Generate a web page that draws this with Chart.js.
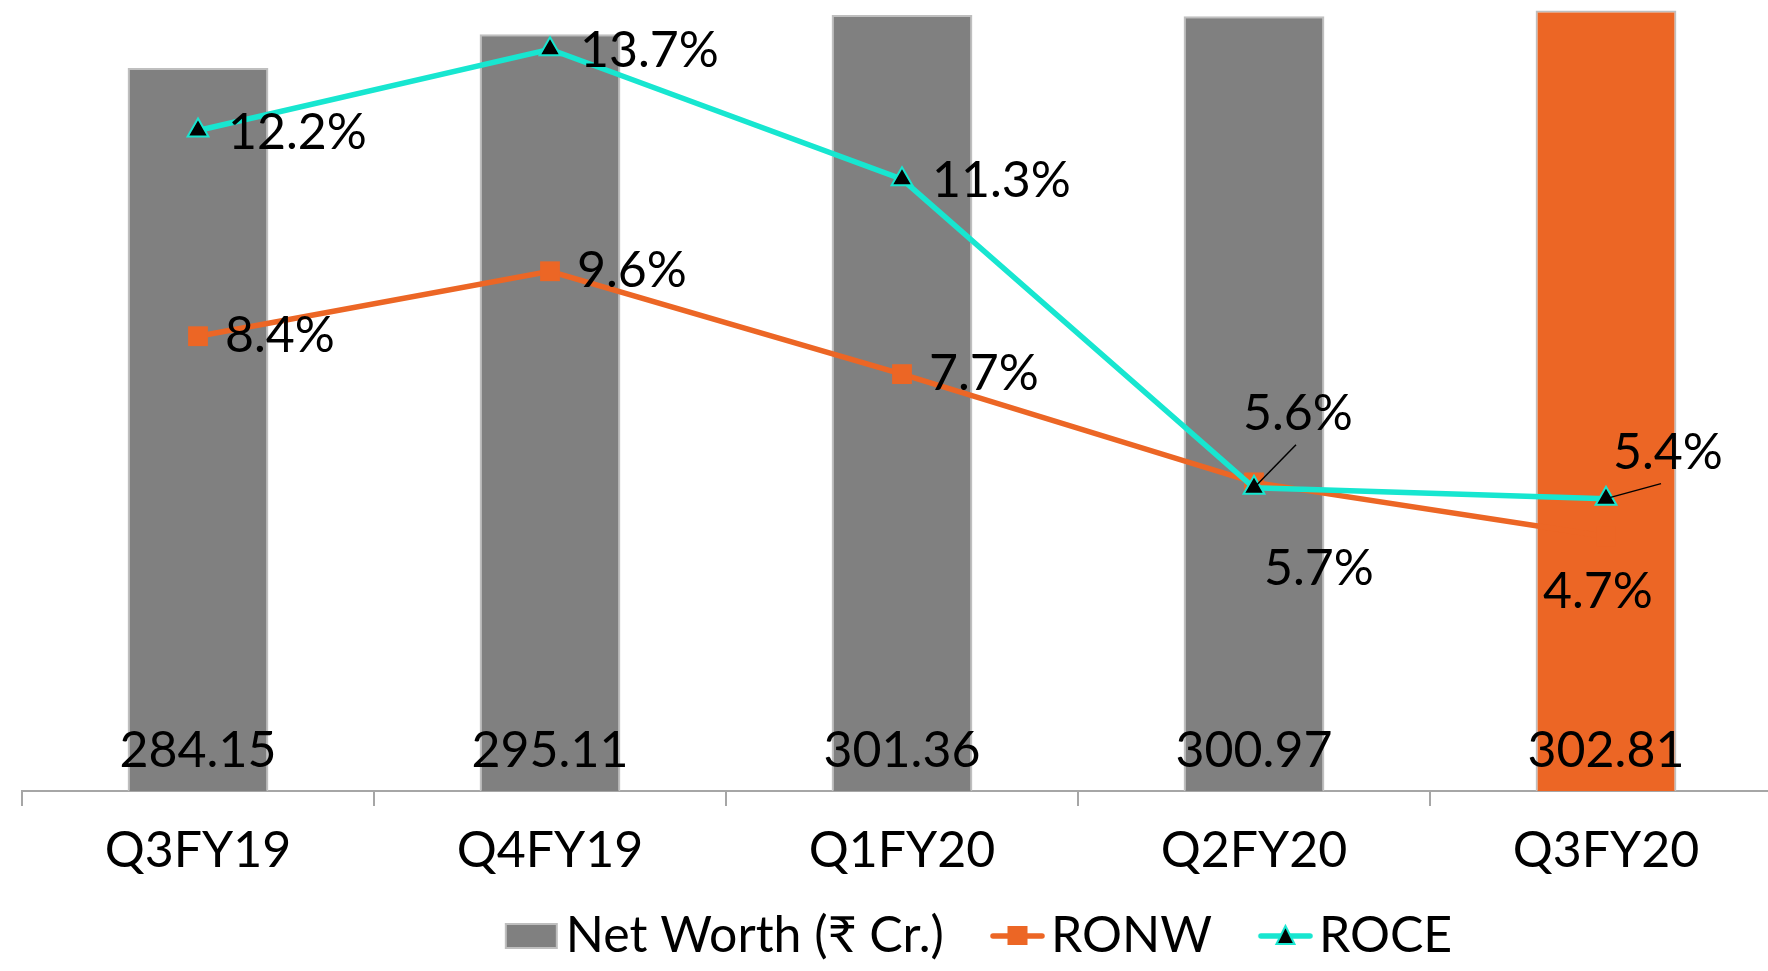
<!DOCTYPE html>
<html>
<head>
<meta charset="utf-8">
<script src="https://cdn.jsdelivr.net/npm/chart.js@4.4.1/dist/chart.umd.min.js"></script>
<style>
    html, body { margin: 0; padding: 0; background: #fff; overflow: hidden; }
    #wrap { position: relative; width: 1800px; height: 971px; }
</style>
</head>
<body>
<div id="wrap"><canvas id="netWorthChart" width="1800" height="971"></canvas></div>
<script>
// data
const quarters = ['Q3FY19', 'Q4FY19', 'Q1FY20', 'Q2FY20', 'Q3FY20'];
const netWorth = [284.15, 295.11, 301.36, 300.97, 302.81];
const ronw = [8.4, 9.6, 7.7, 5.7, 4.7];
const roce = [12.2, 13.7, 11.3, 5.6, 5.4];

const GREY = '#808080';
const ORANGE = '#EC6625';
const TEAL = '#17E6D0';
const FONT = "Lato, 'DejaVu Sans', sans-serif";
const LEGEND_SHIFT = 67;

// label placement: [dx, dy, align, leader end]
const ronwLabelPos = [[27, 0, 'left'], [27, 0, 'left'], [27, 0, 'left'], [65, 86, 'center'], [-8, 55, 'center']];
const roceLabelPos = [[30, 2, 'left'], [30, 2, 'left'], [30, 2, 'left'], [44, -74, 'center', [42, -43]], [62, -46, 'center', [55, -15]]];

function symbolCanvas(kind) {
    const d = 19, w = 55;
    const c = document.createElement('canvas');
    c.width = w + 2 * d;
    c.height = 30;
    const g = c.getContext('2d');
    const x0 = 2 * d, cy = 15;
    if (kind === 'bar') {
        g.fillStyle = '#bfbfbf';
        g.fillRect(x0, cy - 13, 53, 26);
        g.fillStyle = GREY;
        g.fillRect(x0 + 2, cy - 11, 49, 22);
    } else {
        g.strokeStyle = kind === 'ronw' ? ORANGE : TEAL;
        g.lineWidth = 5.5;
        g.lineCap = 'round';
        g.beginPath();
        g.moveTo(x0 + 3, cy);
        g.lineTo(x0 + w - 3, cy);
        g.stroke();
        const mx = x0 + w / 2;
        if (kind === 'ronw') {
            g.fillStyle = ORANGE;
            g.fillRect(mx - 10, cy - 10, 20, 19);
        } else {
            g.beginPath();
            g.moveTo(mx, cy - 10);
            g.lineTo(mx + 9, cy + 8);
            g.lineTo(mx - 9, cy + 8);
            g.closePath();
            g.fillStyle = '#000';
            g.fill();
            g.strokeStyle = TEAL;
            g.lineWidth = 2;
            g.stroke();
        }
    }
    return c;
}
const legendSymbols = [symbolCanvas('bar'), symbolCanvas('ronw'), symbolCanvas('roce')];

const valueLabels = {
    id: 'valueLabels',
    afterDatasetsDraw(chart) {
        const ctx = chart.ctx;
        const bottom = chart.chartArea.bottom;
        ctx.save();
        ctx.font = '50px ' + FONT;
        ctx.fillStyle = '#000';
        ctx.textBaseline = 'middle';

        chart.getDatasetMeta(0).data.forEach((bar, i) => {
            ctx.textAlign = 'center';
            ctx.fillText(netWorth[i].toFixed(2), bar.x, bottom - 40);
        });

        [[1, ronw, ronwLabelPos], [2, roce, roceLabelPos]].forEach(([idx, values, pos]) => {
            chart.getDatasetMeta(idx).data.forEach((pt, i) => {
                const [dx, dy, align, leader] = pos[i];
                if (leader) {
                    ctx.strokeStyle = '#000';
                    ctx.lineWidth = 1.5;
                    ctx.beginPath();
                    ctx.moveTo(pt.x, pt.y);
                    ctx.lineTo(pt.x + leader[0], pt.y + leader[1]);
                    ctx.stroke();
                }
                ctx.textAlign = align;
                ctx.fillText(values[i].toFixed(1) + '%', pt.x + dx, pt.y + dy);
            });
        });
        ctx.restore();
    }
};

const legendShift = {
    id: 'legendShift',
    afterLayout(chart) {
        chart.legend.left += LEGEND_SHIFT;
        chart.legend.right += LEGEND_SHIFT;
    }
};

const ctx = document.getElementById('netWorthChart').getContext('2d');
new Chart(ctx, {
    data: {
        labels: quarters,
        datasets: [{
            type: 'bar',
            label: 'Net Worth (₹ Cr.)',
            data: netWorth,
            backgroundColor: netWorth.map((v, i) => i === netWorth.length - 1 ? ORANGE : GREY),
            borderColor: '#bfbfbf',
            borderWidth: 2,
            categoryPercentage: 0.8,
            barPercentage: 0.5,
            yAxisID: 'y',
            order: 3
        }, {
            type: 'line',
            label: 'RONW',
            data: ronw,
            borderColor: ORANGE,
            borderWidth: 5.5,
            pointStyle: 'rect',
            pointRadius: 14,
            pointBackgroundColor: ORANGE,
            pointBorderColor: ORANGE,
            pointBorderWidth: 0,
            tension: 0,
            yAxisID: 'y1',
            order: 2
        }, {
            type: 'line',
            label: 'ROCE',
            data: roce,
            borderColor: TEAL,
            borderWidth: 5.5,
            pointStyle: 'triangle',
            pointRadius: 12,
            pointBackgroundColor: '#000',
            pointBorderColor: TEAL,
            pointBorderWidth: 2,
            tension: 0,
            yAxisID: 'y1',
            order: 1
        }]
    },
    options: {
        responsive: false,
        animation: false,
        layout: { autoPadding: false, padding: { left: 22, right: 18, top: 0, bottom: 0 } },
        scales: {
            x: {
                offset: true,
                grid: {
                    offset: true,
                    drawOnChartArea: false,
                    drawTicks: true,
                    tickLength: 15,
                    color: '#a6a6a6',
                    lineWidth: 2
                },
                border: { color: '#a6a6a6', width: 2 },
                ticks: {
                    color: '#000',
                    font: { family: FONT, size: 50 },
                    padding: 15,
                    maxRotation: 0,
                    autoSkip: false
                },
                afterFit: (scale) => { scale.height = 93; }
            },
            y: { display: false, min: 50, max: 306.2 },
            y1: { display: false, min: 0, max: 14.61 }
        },
        plugins: {
            tooltip: { enabled: false },
            legend: {
                position: 'bottom',
                labels: {
                    color: '#000',
                    font: { family: FONT, size: 50 },
                    usePointStyle: true,
                    pointStyleWidth: 55,
                    boxHeight: 50,
                    padding: 27,
                    sort: (a, b) => a.datasetIndex - b.datasetIndex,
                    generateLabels: (chart) => {
                        const items = Chart.defaults.plugins.legend.labels.generateLabels(chart);
                        items.forEach((item) => {
                            item.pointStyle = legendSymbols[item.datasetIndex];
                            item.fontColor = '#000';
                        });
                        return items;
                    }
                }
            }
        }
    },
    plugins: [valueLabels, legendShift]
});
</script>
</body>
</html>
